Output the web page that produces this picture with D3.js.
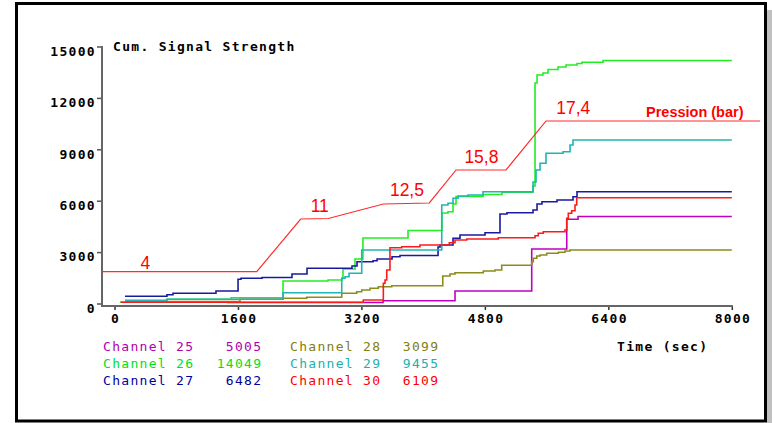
<!DOCTYPE html>
<html lang="en">
<head>
<meta charset="utf-8">
<title>Cum. Signal Strength</title>
<script src="https://d3js.org/d3.v7.min.js"></script>
<style>
  body { margin: 0; background: #fff; }
  .mono { font-family: "DejaVu Sans Mono", monospace; font-size: 13px; letter-spacing: 1.3px; }
  .bold { font-weight: bold; }
  .pres { font-family: "Liberation Sans", Arial, sans-serif; fill: #ff0000; }
</style>
</head>
<body>
<div id="chart"></div>
<script>
// --- data (time in sec, cumulative signal) ---
var ch25T = [1454, 3480, 4413, 5407, 5861, 6007, 8000];
var ch25V = [60, 160, 730, 3180, 4915, 5080, 5080];

var ch26T = [70, 680, 1510, 2184, 2767, 2948, 2961, 3117, 3220, 3804, 4244, 4322, 4387, 4426, 4776, 5022, 5424, 5450, 5476, 5553, 5618, 5748, 5852, 5994, 6059, 6331, 8000];
var ch26V = [90, 245, 339, 1313, 1372, 1471, 2014, 2597, 3823, 4261, 5282, 5358, 5808, 6246, 6362, 6491, 6858, 12871, 13338, 13455, 13659, 13805, 13922, 14009, 14079, 14184, 14184];

var ch27T = [136, 680, 758, 1315, 1601, 1639, 1912, 2300, 2495, 3078, 3143, 3351, 3403, 3597, 3700, 4193, 4219, 4387, 4478, 4802, 4996, 5087, 5424, 5476, 5540, 5735, 5942, 5994, 8000];
var ch27V = [420, 514, 595, 730, 1413, 1471, 1518, 1722, 2055, 2189, 2440, 2498, 2597, 2732, 2802, 3298, 3415, 3806, 3998, 4133, 5224, 5300, 5458, 5808, 5942, 6041, 6234, 6526, 6526];

var ch28T = [136, 1626, 2184, 2491, 2945, 3139, 3204, 3311, 3419, 3593, 4254, 4348, 4413, 4780, 4931, 5018, 5407, 5428, 5472, 5515, 5601, 5752, 5838, 5903, 8000];
var ch28V = [117, 245, 304, 362, 595, 689, 788, 887, 981, 1039, 1605, 1722, 1798, 1897, 1955, 2230, 2440, 2638, 2773, 2831, 2930, 2989, 3064, 3123, 3123];

var ch29T = [136, 680, 2184, 2945, 2988, 3040, 3204, 4241, 4322, 4387, 4452, 4582, 4776, 5424, 5463, 5515, 5592, 5813, 5904, 5942, 8000];
var ch29V = [187, 245, 630, 1471, 1564, 1763, 3123, 5749, 5849, 6141, 6275, 6333, 6526, 7092, 7792, 8183, 8767, 8861, 9252, 9543, 9543];

var ch30T = [80, 3224, 3484, 3506, 3528, 3570, 3722, 3959, 4339, 4413, 4565, 4974, 5450, 5492, 5557, 5838, 5861, 5881, 5925, 5968, 5990, 8000];
var ch30V = [70, 204, 1179, 1372, 1955, 3257, 3315, 3415, 3549, 3707, 3765, 3841, 3957, 4098, 4191, 4290, 4973, 5265, 5417, 5749, 6175, 6175];

// pressure curve, drawn in signal units
var presT = [-166, 1843, 2413, 2771, 3484, 4080, 4426, 5074, 5592, 8366];
var presV = [1856, 1856, 4932, 4961, 5808, 5866, 7792, 7792, 10653, 10653];
var presLabels = ["4", "11", "12,5", "15,8", "17,4"];
var presLabelT = [400, 2660, 3790, 4755, 5945];
var presLabelV = [1856, 4932, 5866, 7792, 10653];

var channelNames = ["Channel 25", "Channel 26", "Channel 27", "Channel 28", "Channel 29", "Channel 30"];
var channelTotals = ["5005", "14049", "6482", "3099", "9455", "6109"];
var lineColors = ["#c000c0", "#22ee22", "#1a1aa0", "#8c8c1c", "#20b4b4", "#ff1a1a"];
var textColors = ["#b000b0", "#00e020", "#0000a0", "#808010", "#20b0b0", "#ff0000"];

var yTicks = [0, 3000, 6000, 9000, 12000, 15000];
var xTicks = [0, 1600, 3200, 4800, 6400, 8000];

window.onload = function() {
  var W = 772, H = 423;
  var svg = d3.select("#chart").append("svg")
      .attr("width", W).attr("height", H);

  svg.append("rect").attr("width", W).attr("height", H).attr("fill", "#fff");
  // frame + shadow
  svg.append("rect").attr("x", 767).attr("y", 10).attr("width", 5).attr("height", 413).attr("fill", "#c0c0c0");
  svg.append("rect").attr("x", 16.5).attr("y", 3.5).attr("width", 749).attr("height", 417.5)
      .attr("fill", "none").attr("stroke", "#000").attr("stroke-width", 3);

  var x = d3.scaleLinear().domain([0, 8000]).range([114.5, 731.8]);
  var y = d3.scaleLinear().domain([0, 15000]).range([303.5, 46.5]);
  var axisY = 306, axisX = 102;

  // y axis
  var gy = svg.append("g").attr("transform", "translate(" + axisX + ",0)")
      .call(d3.axisLeft(y).tickValues(yTicks).tickSize(5).tickSizeOuter(0).tickFormat(d3.format("d")));
  gy.select(".domain").remove();
  gy.selectAll(".tick line").attr("stroke", "#555").attr("stroke-width", 1.5);
  gy.selectAll(".tick text").attr("class", "mono bold").attr("fill", "#000")
      .attr("x", -6).attr("dy", "0.75em").attr("y", -1);
  gy.append("line").attr("x1", 0).attr("x2", 0).attr("y1", y(15000) - 0.5).attr("y2", axisY)
      .attr("stroke", "#666").attr("stroke-width", 2);

  // x axis
  var gx = svg.append("g").attr("transform", "translate(0," + axisY + ")")
      .call(d3.axisBottom(x).tickValues(xTicks).tickSize(4).tickSizeOuter(0).tickFormat(d3.format("d")));
  gx.select(".domain").remove();
  gx.selectAll(".tick line").attr("stroke", "#333").attr("stroke-width", 1.5);
  gx.selectAll(".tick text").attr("class", "mono bold").attr("fill", "#000")
      .attr("y", 17).attr("dy", 0).attr("dx", "0.65px");
  gx.append("line").attr("x1", axisX - 1).attr("x2", x(8000) + 1).attr("y1", 0).attr("y2", 0)
      .attr("stroke", "#666").attr("stroke-width", 2);

  svg.append("text").attr("class", "mono bold").attr("x", 113).attr("y", 50.5).text("Cum. Signal Strength");
  svg.append("text").attr("class", "mono bold").attr("x", 617).attr("y", 351).text("Time (sec)");

  // channel step lines
  var series = [[ch25T, ch25V], [ch26T, ch26V], [ch27T, ch27V], [ch28T, ch28V], [ch29T, ch29V], [ch30T, ch30V]];
  var step = d3.line().x(function(d) { return x(d[0]); }).y(function(d) { return y(d[1]); })
      .curve(d3.curveStepAfter);
  series.forEach(function(s, i) {
    var pts = s[0].map(function(t, j) { return [t, s[1][j]]; });
    svg.append("path").datum(pts).attr("d", step)
      .attr("fill", "none").attr("stroke", lineColors[i]).attr("stroke-width", 1.6);
  });

  // pressure line
  var pres = presT.map(function(t, j) { return [t, presV[j]]; });
  svg.append("path").datum(pres)
    .attr("d", d3.line().x(function(d) { return x(d[0]); }).y(function(d) { return y(d[1]); }))
    .attr("fill", "none").attr("stroke", "#ff2a2a").attr("stroke-width", 1.2);

  svg.selectAll(".plab").data(presLabels).enter().append("text")
    .attr("class", "pres").attr("font-size", "17.5px").attr("text-anchor", "middle")
    .attr("x", function(d, i) { return x(presLabelT[i]); })
    .attr("y", function(d, i) { return y(presLabelV[i]) - (i === 0 ? 2.5 : 6.5); })
    .text(function(d) { return d; });
  svg.append("text").attr("class", "pres").attr("font-size", "14.5px").attr("font-weight", "bold")
    .attr("x", 646).attr("y", 116.5).text("Pression (bar)");

  // legend
  var legendBase = [351, 367.8, 384.5];
  channelNames.forEach(function(name, i) {
    var col = Math.floor(i / 3), row = i % 3;
    var lx = col === 0 ? 103 : 290;
    var vx = col === 0 ? 262.3 : 439.3;
    svg.append("text").attr("class", "mono").attr("x", lx).attr("y", legendBase[row])
      .attr("fill", textColors[i]).text(name);
    svg.append("text").attr("class", "mono").attr("x", vx).attr("y", legendBase[row])
      .attr("text-anchor", "end").attr("fill", textColors[i]).text(channelTotals[i]);
  });
};
</script>
</body>
</html>
